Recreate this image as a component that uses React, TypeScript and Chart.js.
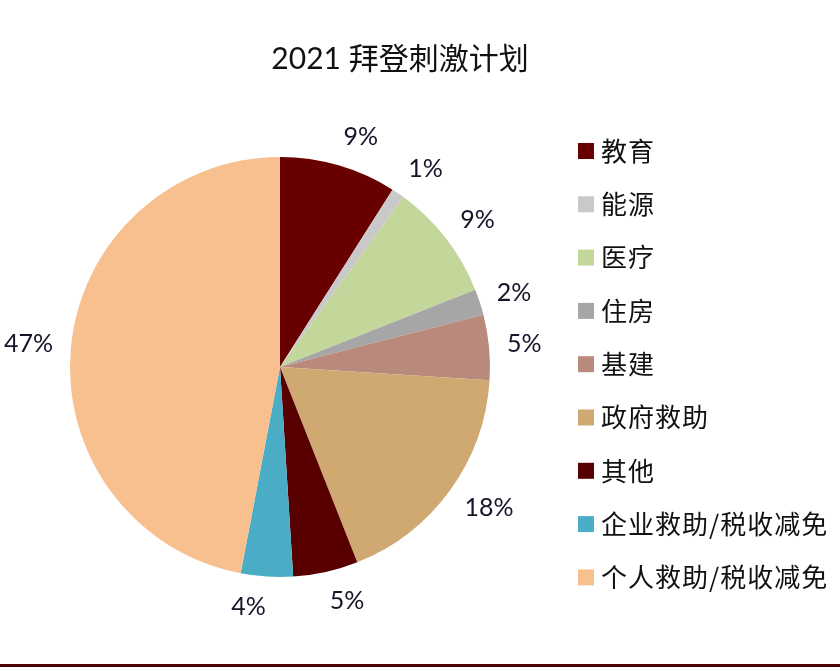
import React, { useEffect, useRef } from "react";
import { Chart, registerables } from "chart.js";

Chart.register(...registerables);

const titleText = "2021 拜登刺激计划";
const categories = ["教育", "能源", "医疗", "住房", "基建", "政府救助", "其他", "企业救助/税收减免", "个人救助/税收减免"];
const values = [9, 1, 9, 2, 5, 18, 5, 4, 47];
const valueLabels = ["9%", "1%", "9%", "2%", "5%", "18%", "5%", "4%", "47%"];
const colors = ["#680000", "#C9C9C9", "#C4D79B", "#A6A6A6", "#B98A7C", "#D0A872", "#580000", "#4BACC6", "#F9C08F"];

const LABEL_FONT = '25px Lato, "Open Sans", "Noto Sans CJK SC", sans-serif';
const LEGEND_FONT = '26px "Noto Sans CJK SC", sans-serif';

export default function App() {
  const ref = useRef<HTMLCanvasElement | null>(null);
  useEffect(() => {
    if (!ref.current) return;
    const overlay = {
      id: "overlay",
      afterDraw(chart: any) {
        const ctx = chart.ctx as CanvasRenderingContext2D;
        ctx.save();
        // title
        ctx.fillStyle = "#111111";
        ctx.font = '30px Lato, "Noto Sans CJK SC", sans-serif';
        ctx.textAlign = "center";
        ctx.textBaseline = "middle";
        ctx.fillText(titleText, 400, 59);
        // percentage labels
        const meta = chart.getDatasetMeta(0);
        ctx.font = LABEL_FONT;
        ctx.fillStyle = "#15152a";
        meta.data.forEach((arc: any, i: number) => {
          const mid = (arc.startAngle + arc.endAngle) / 2;
          const r = arc.outerRadius + 18;
          const w = ctx.measureText(valueLabels[i]).width;
          const h = 24;
          const cx = Math.cos(mid);
          const sy = Math.sin(mid);
          const x = arc.x + cx * r + Math.sign(cx) * w / 2;
          const y = arc.y + sy * r + sy * h / 2;
          ctx.fillText(valueLabels[i], x, y);
        });
        // legend
        ctx.textAlign = "left";
        ctx.font = LEGEND_FONT;
        try { (ctx as any).letterSpacing = "1px"; } catch (e) {}
        categories.forEach((c, i) => {
          const cy = 151 + i * 53.3;
          ctx.fillStyle = colors[i];
          ctx.fillRect(578, cy - 8, 16, 16);
          ctx.fillStyle = "#111111";
          ctx.fillText(c, 601, cy);
        });
        try { (ctx as any).letterSpacing = "0px"; } catch (e) {}
        // bottom line
        ctx.fillStyle = "#4A0404";
        ctx.fillRect(0, 664, 840, 3);
        ctx.restore();
      },
    };
    const chart = new Chart(ref.current, {
      type: "pie",
      data: {
        labels: categories,
        datasets: [{ data: values, backgroundColor: colors, borderWidth: 0 }],
      },
      options: {
        responsive: false,
        animation: false,
        layout: { padding: { left: 70, top: 157, right: 350, bottom: 94 } },
        plugins: { legend: { display: false }, tooltip: { enabled: false }, title: { display: false } },
      },
      plugins: [overlay],
    });
    return () => chart.destroy();
  }, []);
  return (
    <div style={{ position: "fixed", left: 0, top: 0, width: 840, height: 671, background: "#fff" }}>
      <canvas ref={ref} width={840} height={671} style={{ width: 840, height: 671, display: "block" }} />
    </div>
  );
}
